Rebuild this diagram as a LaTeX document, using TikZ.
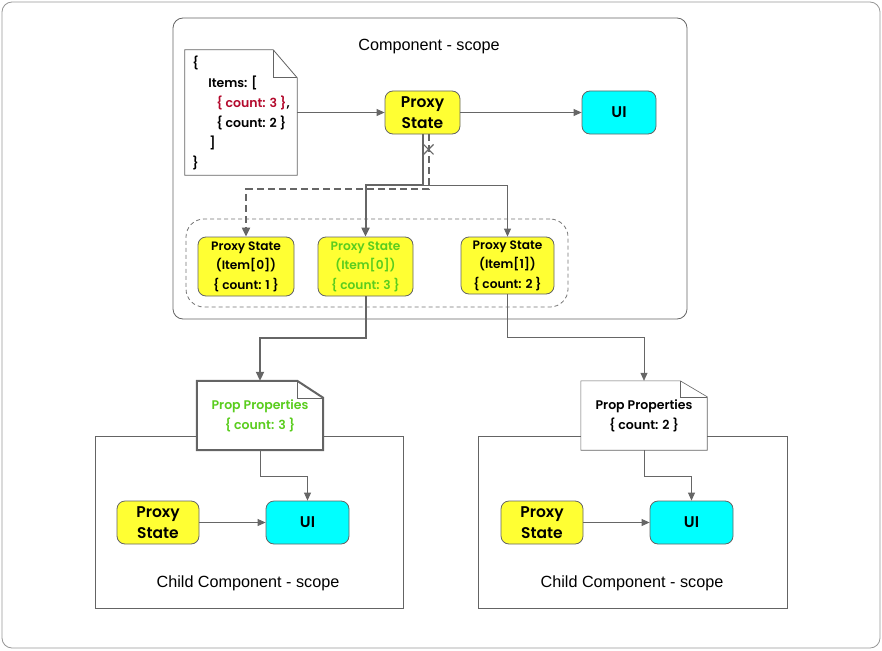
\documentclass[tikz,border=0pt]{standalone}
\usepackage{fontspec}
\setmainfont{Liberation Sans}
\newfontfamily\boxfont{Poppins}[UprightFont=* SemiBold]
\usepackage{tikz}
\usetikzlibrary{shapes.geometric, arrows.meta}

\definecolor{proxyyellow}{RGB}{255,255,51}
\definecolor{uicyan}{RGB}{0,255,255}
\definecolor{boxgray}{RGB}{100,100,100}
\definecolor{linegray}{RGB}{102,102,102}
\definecolor{framegray}{RGB}{150,150,150}
\definecolor{jsonred}{RGB}{180,10,45}
\definecolor{propgreen}{RGB}{90,205,30}

\begin{document}
\begin{tikzpicture}
    [
        x=1pt, y=-1pt,
        frame/.style = {draw=framegray, shape=rectangle, rounded corners=10pt, line width=0.8pt, minimum width=878pt, minimum height=646pt},
        scopebox/.style = {draw=boxgray, shape=rectangle, line width=0.8pt, inner sep=0pt},
        title/.style = {font=\fontsize{16.2}{19}\selectfont, inner sep=0pt},
        proxy/.style = {draw=boxgray, fill=proxyyellow, shape=rectangle, rounded corners=8pt, minimum height=43pt, minimum width=80pt, inner sep=0pt, align=center, line width=0.8pt, font=\boxfont\fontsize{15.5}{21}\selectfont},
        ui/.style = {proxy, fill=uicyan},
        item/.style = {proxy, minimum height=59pt, minimum width=95pt, font=\boxfont\fontsize{12.2}{19.5}\selectfont},
        doc/.style = {shape=rectangle, fill=white, inner sep=0pt, align=center, font=\boxfont\fontsize{12.5}{20}\selectfont},
        docline/.style = {draw=boxgray},
        link/.style = {draw=linegray, line width=0.8pt, -{Triangle[length=8pt, width=7pt]}},
        heavy/.style = {line width=2pt, -{Triangle[length=9pt, width=8pt]}},
    ]

    \useasboundingbox (0,0) rectangle (882,650);
    \node[frame] (canvas) at (441,325) {};

    % parent component
    \node[scopebox, rounded corners=10pt, minimum width=514pt, minimum height=301pt] (compscope) at (430,168.5) {};
    \node[title] (comptitle) at (429,47) {Component - scope};

    \node[doc, minimum width=112pt, minimum height=125pt, align=left] (json) at (241,112.5)
        {\{\\
         \hspace*{16pt}Items: [\\
         \hspace*{24pt}\textcolor{jsonred}{\{ count: 3 \}},\\
         \hspace*{24pt}\{ count: 2 \}\\
         \hspace*{17pt}]\\
         \}};
    \node[proxy, minimum width=75pt] (proxy) at (422.5,112.5) {Proxy\\State};
    \node[ui, minimum width=74pt] (ui) at (619,112.5) {UI};

    \node[scopebox, draw=boxgray!90, dashed, dash pattern=on 4pt off 3pt, rounded corners=18pt, minimum width=382pt, minimum height=88pt] (group) at (377,263) {};
    \node[item, minimum width=96pt] (itemL) at (246,266.5) {Proxy State\\(Item[0])\\\{ count: 1 \}};
    \node[item, text=propgreen] (itemM) at (365.5,266.5) {Proxy State\\(Item[0])\\\{ count: 3 \}};
    \node[item, minimum width=93pt, minimum height=57pt] (itemR) at (507.5,265.5) {Proxy State\\(Item[1])\\\{ count: 2 \}};

    % child components
    \node[scopebox, minimum width=308pt, minimum height=172pt] (childL) at (249,522) {};
    \node[title] (childLtitle) at (248,583) {Child Component - scope};
    \node[scopebox, minimum width=309pt, minimum height=172pt] (childR) at (632.5,522) {};
    \node[title] (childRtitle) at (632,583) {Child Component - scope};

    \node[doc, minimum width=126pt, minimum height=69pt, text=propgreen] (propL) at (260,415.5) {Prop Properties\\\{ count: 3 \}};
    \node[doc, minimum width=126pt, minimum height=69pt] (propR) at (644,415.5) {Prop Properties\\\{ count: 2 \}};

    \foreach \d/\fw/\fh/\lw in {json/24pt/28pt/0.8pt, propL/26pt/17pt/2pt, propR/27pt/16pt/0.6pt}
    {
        \draw[docline, line width=\lw] (\d.south west) -- (\d.north west) -- ([xshift=-\fw]\d.north east) -- ([yshift=-\fh]\d.north east) -- (\d.south east) -- cycle;
        \draw[docline, line width=0.6pt] ([xshift=-\fw]\d.north east) -- ([xshift=-\fw, yshift=-\fh]\d.north east) -- ([yshift=-\fh]\d.north east);
    }

    \node[proxy, minimum width=82pt] (proxyL) at (158,522.5) {Proxy\\State};
    \node[ui, minimum width=83pt] (uiL) at (307.5,522.5) {UI};
    \node[proxy, minimum width=82pt] (proxyR) at (542,522.5) {Proxy\\State};
    \node[ui, minimum width=83pt] (uiR) at (691.5,522.5) {UI};

    % connectors
    \draw[link] (json.east) -- (proxy.west);
    \draw[link] (proxy.east) -- (ui.west);
    \draw[link] (proxy.south) -- ++(0,51) -| (itemR.north);
    \draw[link, heavy] (proxy.south) -- ++(0,51) -| (itemM.north);
    \path (proxy.south) ++(6,0) coordinate (cutstart) ++(0,15) coordinate (cut);
    \draw[link, heavy, dash pattern=on 7pt off 4pt] (cutstart) -- ++(0,55) -| (itemL.north);
    \draw[linegray, line width=1.2pt] (cut) ++(-5,-5) -- ++(10,10) (cut) ++(-5,5) -- ++(10,-10);

    \draw[link, heavy] (itemM.south) -- ++(0,42) -| (propL.north);
    \draw[link] (itemR.south) -- ++(0,43) -| (propR.north);

    \draw[link] (propL.south) -- ++(0,26) -| (uiL.north);
    \draw[link] (propR.south) -- ++(0,26) -| (uiR.north);
    \draw[link] (proxyL.east) -- (uiL.west);
    \draw[link] (proxyR.east) -- (uiR.west);
\end{tikzpicture}
\end{document}
